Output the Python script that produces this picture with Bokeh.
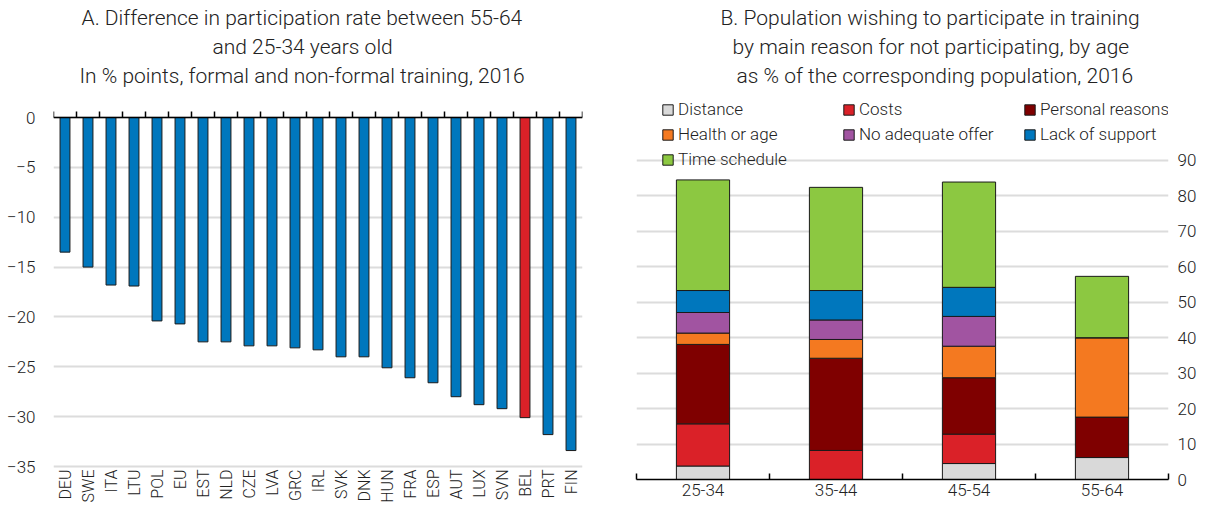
import math
from bokeh.plotting import figure
from bokeh.models import (ColumnDataSource, FixedTicker, Title, Legend, LegendItem,
                          Range1d, Span)
from bokeh.layouts import row
from bokeh.embed import file_html
from bokeh.resources import INLINE
from bokeh.core.properties import value

# ---------------- data ----------------
countries = ["DEU", "SWE", "ITA", "LTU", "POL", "EU", "EST", "NLD", "CZE", "LVA", "GRC",
             "IRL", "SVK", "DNK", "HUN", "FRA", "ESP", "AUT", "LUX", "SVN", "BEL", "PRT", "FIN"]
participation_gap = [-13.5, -15.0, -16.8, -16.9, -20.4, -20.7, -22.5, -22.5, -22.9, -22.9, -23.1,
                     -23.3, -24.0, -24.0, -25.1, -26.1, -26.6, -28.0, -28.8, -29.2, -30.1, -31.8, -33.4]
highlight_country = "BEL"
left_ticks = [0, -5, -10, -15, -20, -25, -30, -35]

age_groups = ["25-34", "35-44", "45-54", "55-64"]
reason_names = ["Distance", "Costs", "Personal reasons", "Health or age",
                "No adequate offer", "Lack of support", "Time schedule"]
distance = [3.8, 0.0, 4.5, 6.2]
costs = [11.9, 8.2, 8.3, 0.0]
personal_reasons = [22.4, 26.0, 15.9, 11.4]
health_or_age = [3.2, 5.3, 8.9, 22.4]
no_adequate_offer = [5.8, 5.5, 8.4, 0.0]
lack_of_support = [6.2, 8.3, 8.2, 0.0]
time_schedule = [31.2, 29.1, 29.7, 17.3]
right_ticks = [0, 10, 20, 30, 40, 50, 60, 70, 80, 90]

titleA = ["A. Difference in participation rate between 55-64",
          "and 25-34 years old",
          "In % points, formal and non-formal training, 2016"]
titleB = ["B. Population wishing to participate in training",
          "by main reason for not participating, by age",
          "as % of the corresponding population, 2016"]

# ---------------- style ----------------
FONT = "Roboto Light, Roboto"
BLUE = "#0077bd"
RED = "#da2128"
reason_colors = ["#d9d9d9", "#da2128", "#7f0000", "#f47920", "#a154a1", "#0077bd", "#8cc841"]
GRID = "#dcdcdc"
TXT = "#222222"
TITLE_PX = "21px"
H = 503


def add_titles(fig, lines, offsets):
    # stacked outward from the frame: add the last line first
    for t, off in zip(reversed(lines), reversed(offsets)):
        fig.add_layout(Title(text=t, align="left", offset=off, text_font=FONT,
                             text_font_size=TITLE_PX, text_font_style="normal",
                             text_color=TXT, standoff=3), "above")


def hide_ticks(ax):
    ax.major_tick_line_color = None
    ax.minor_tick_line_color = None
    ax.major_tick_in = 0
    ax.major_tick_out = 0
    ax.minor_tick_in = 0
    ax.minor_tick_out = 0


# ---------------- panel A ----------------
n = len(countries)
xpos = list(range(1, n + 1))
bounds = [i + 0.5 for i in range(0, n + 1)]
bar_colors = [RED if c == highlight_country else BLUE for c in countries]
srcA = ColumnDataSource(dict(x=xpos, top=[0] * n, bottom=participation_gap, color=bar_colors,
                             name=countries))

# frame spans a little above 0 (room for the boundary ticks) and below -35 (room for labels)
A_TOP, A_BOTTOM, TICK_LEN = 2.81, -38.71, 0.6
left = figure(width=600, height=H, x_range=Range1d(0.5, n + 0.5), y_range=Range1d(A_BOTTOM, A_TOP),
              x_axis_location=None, output_backend="svg", toolbar_location=None,
              min_border_left=53, min_border_right=18, min_border_top=89, min_border_bottom=0)
left.frame_align = False
left.outline_line_color = None
left.xgrid.grid_line_color = None
left.ygrid.ticker = FixedTicker(ticks=left_ticks)
left.ygrid.grid_line_color = GRID
left.ygrid.grid_line_width = 2

left.vbar(x="x", top="top", bottom="bottom", width=0.43, fill_color="color",
          line_color="#1a1a1a", line_width=1, source=srcA)
# zero line with category-boundary ticks
left.add_layout(Span(location=0, dimension="width", line_color="black", line_width=1.5))
left.segment(x0=bounds, y0=[0] * len(bounds), x1=bounds, y1=[TICK_LEN] * len(bounds),
             line_color="black", line_width=1.5)
# category labels, hanging below the -35 line
left.text(x="x", y=min(left_ticks), text="name", source=srcA, angle=math.pi / 2,
          text_align="right", text_baseline="middle", y_offset=3,
          text_font=value(FONT), text_font_size="16px", text_color=TXT)

ya = left.yaxis[0]
ya.ticker = FixedTicker(ticks=left_ticks, minor_ticks=[])
ya.axis_line_color = None
hide_ticks(ya)
ya.major_label_standoff = 18
ya.major_label_text_font = FONT
ya.major_label_text_font_size = "17px"
ya.major_label_text_color = TXT

add_titles(left, titleA, [28, 159, 26])

# ---------------- panel B ----------------
stack_cols = ["distance", "costs", "personal", "health", "offer", "support", "time"]
srcB = ColumnDataSource(dict(x=[1, 2, 3, 4], distance=distance, costs=costs,
                             personal=personal_reasons, health=health_or_age,
                             offer=no_adequate_offer, support=lack_of_support, time=time_schedule))

right = figure(width=599, height=H, x_range=Range1d(0.5, 4.5), y_range=Range1d(0, 110.0),
               y_axis_location="right", output_backend="svg", toolbar_location=None,
               min_border_left=36, min_border_right=29, min_border_top=89, min_border_bottom=24)
right.frame_align = False
right.outline_line_color = None
right.xgrid.grid_line_color = None
right.ygrid.ticker = FixedTicker(ticks=right_ticks)
right.ygrid.grid_line_color = GRID
right.ygrid.grid_line_width = 2

rends = right.vbar_stack(stack_cols, x="x", width=0.4, color=reason_colors,
                         line_color="#1a1a1a", line_width=1, source=srcB)

bx = right.xaxis[0]
bx.ticker = FixedTicker(ticks=[1, 2, 3, 4], minor_ticks=[0.5, 1.5, 2.5, 3.5, 4.5])
bx.major_label_overrides = {i + 1: g for i, g in enumerate(age_groups)}
bx.axis_line_color = "black"
bx.axis_line_width = 1.5
bx.major_tick_line_color = None
bx.major_tick_out = 0
bx.major_tick_in = 0
bx.minor_tick_line_color = "black"
bx.minor_tick_line_width = 1.5
bx.minor_tick_in = 6
bx.minor_tick_out = 0
bx.major_label_standoff = 4
bx.major_label_text_font = FONT
bx.major_label_text_font_size = "17px"
bx.major_label_text_color = TXT

by = right.yaxis[0]
by.ticker = FixedTicker(ticks=right_ticks, minor_ticks=[])
by.axis_line_color = None
hide_ticks(by)
by.major_label_standoff = 9
by.major_label_text_font = FONT
by.major_label_text_font_size = "17px"
by.major_label_text_color = TXT

items = [LegendItem(label=nm, renderers=[r]) for nm, r in zip(reason_names, rends)]
legend = Legend(items=items, orientation="horizontal", ncols=3, location=(25, 310),
                background_fill_alpha=0, border_line_color=None, padding=0, margin=0,
                spacing=5, glyph_width=13, glyph_height=13, label_standoff=4,
                label_width=159, label_height=20,
                label_text_font=FONT, label_text_font_size="17px",
                label_text_color=TXT)
right.add_layout(legend)

add_titles(right, titleB, [84, 96, 100])

layout = row(left, right)
open("out.html", "w").write(file_html(layout, INLINE))
